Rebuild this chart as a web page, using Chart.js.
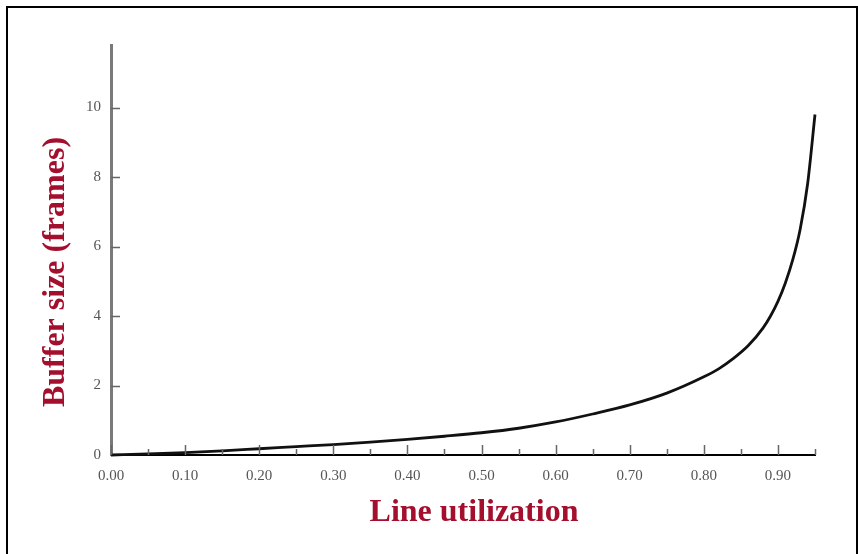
<!DOCTYPE html>
<html>
<head>
<meta charset="utf-8">
<script src="https://cdn.jsdelivr.net/npm/chart.js@4"></script>
<style>
  html, body { margin: 0; padding: 0; background: #fff; }
  #wrap { position: relative; width: 858px; height: 554px; }
  #frame {
    position: absolute; left: 6px; top: 6px; width: 848px; height: 560px;
    border-left: 2px solid #000; border-top: 2px solid #000; border-right: 2px solid #000;
  }
  #chart { position: absolute; left: 0; top: 0; }
</style>
</head>
<body>
<div id="wrap">
  <div id="frame"></div>
  <canvas id="chart" width="858" height="554"></canvas>
</div>
<script>
// valeurs
const utilization = [0, 0.05, 0.10, 0.15, 0.20, 0.25, 0.30, 0.35, 0.40, 0.45, 0.50, 0.55, 0.60, 0.65, 0.70, 0.75, 0.80, 0.82, 0.84, 0.86, 0.88, 0.89, 0.90, 0.91, 0.92, 0.93, 0.94, 0.95];
const bufferSize  = [0, 0.03, 0.07, 0.12, 0.18, 0.24, 0.30, 0.37, 0.45, 0.54, 0.64, 0.77, 0.95, 1.18, 1.44, 1.78, 2.25, 2.48, 2.78, 3.15, 3.66, 4.00, 4.42, 4.95, 5.62, 6.50, 7.80, 9.80];

const xMajorTicks = [0, 0.1, 0.2, 0.3, 0.4, 0.5, 0.6, 0.7, 0.8, 0.9];
const xMinorTicks = [0.05, 0.15, 0.25, 0.35, 0.45, 0.55, 0.65, 0.75, 0.85, 0.95];
const xTickLabels = ['0.00', '0.10', '0.20', '0.30', '0.40', '0.50', '0.60', '0.70', '0.80', '0.90'];
const yTicks = [0, 2, 4, 6, 8, 10];
const yTickLabels = ['0', '2', '4', '6', '8', '10'];

const xTitle = 'Line utilization';
const yTitle = 'Buffer size (frames)';
const titleColor = '#a30f2d';

// petits traits vers l'intérieur + titres des axes
const axisDecor = {
  id: 'axisDecor',
  afterDraw(chart) {
    const { ctx, chartArea } = chart;
    const x = chart.scales.x, y = chart.scales.y;
    ctx.save();
    ctx.strokeStyle = '#666';
    ctx.lineWidth = 1.5;
    ctx.beginPath();
    xMajorTicks.forEach(v => {
      const px = Math.round(x.getPixelForValue(v)) + 0.5;
      ctx.moveTo(px, chartArea.bottom);
      ctx.lineTo(px, chartArea.bottom - 10);
    });
    xMinorTicks.forEach(v => {
      const px = Math.round(x.getPixelForValue(v)) + 0.5;
      ctx.moveTo(px, chartArea.bottom);
      ctx.lineTo(px, chartArea.bottom - 6);
    });
    yTicks.slice(1).forEach(v => {
      const py = Math.round(y.getPixelForValue(v)) + 0.5;
      ctx.moveTo(chartArea.left, py);
      ctx.lineTo(chartArea.left + 9, py);
    });
    ctx.stroke();

    ctx.fillStyle = titleColor;
    ctx.font = 'bold 32px "Liberation Serif", "Times New Roman", serif';
    ctx.textAlign = 'center';
    ctx.textBaseline = 'alphabetic';
    ctx.fillText(xTitle, 474, 521);

    ctx.translate(64, 272);
    ctx.rotate(-Math.PI / 2);
    ctx.fillText(yTitle, 0, 0);
    ctx.restore();
  }
};

new Chart(document.getElementById('chart'), {
  type: 'line',
  data: {
    datasets: [{
      data: utilization.map((u, i) => ({ x: u, y: bufferSize[i] })),
      borderColor: '#111',
      borderWidth: 2.8,
      pointRadius: 0,
      cubicInterpolationMode: 'monotone',
      fill: false,
      clip: false
    }]
  },
  options: {
    responsive: false,
    animation: false,
    layout: { padding: { left: 0, top: 45, right: 43, bottom: 0 } },
    plugins: { legend: { display: false }, tooltip: { enabled: false } },
    scales: {
      x: {
        type: 'linear',
        min: 0,
        max: 0.95,
        afterFit: s => { s.height = 99; },
        afterBuildTicks: s => { s.ticks = xMajorTicks.map(value => ({ value })); },
        grid: { display: true, drawOnChartArea: false, drawTicks: false },
        border: { display: true, color: '#000', width: 2 },
        ticks: {
          autoSkip: false,
          maxRotation: 0,
          padding: 12,
          color: '#555',
          font: { family: '"Liberation Serif", serif', size: 15 },
          callback: (v, i) => xTickLabels[i]
        }
      },
      y: {
        type: 'linear',
        min: 0,
        max: 11.8,
        afterFit: s => { s.width = 111; },
        afterBuildTicks: s => { s.ticks = yTicks.map(value => ({ value })); },
        grid: { display: true, drawOnChartArea: false, drawTicks: false },
        border: { display: true, color: '#7a7a7a', width: 3 },
        ticks: {
          padding: 10,
          color: '#555',
          font: { family: '"Liberation Serif", serif', size: 15 },
          callback: (v, i) => yTickLabels[i]
        }
      }
    }
  },
  plugins: [axisDecor]
});
</script>
</body>
</html>
